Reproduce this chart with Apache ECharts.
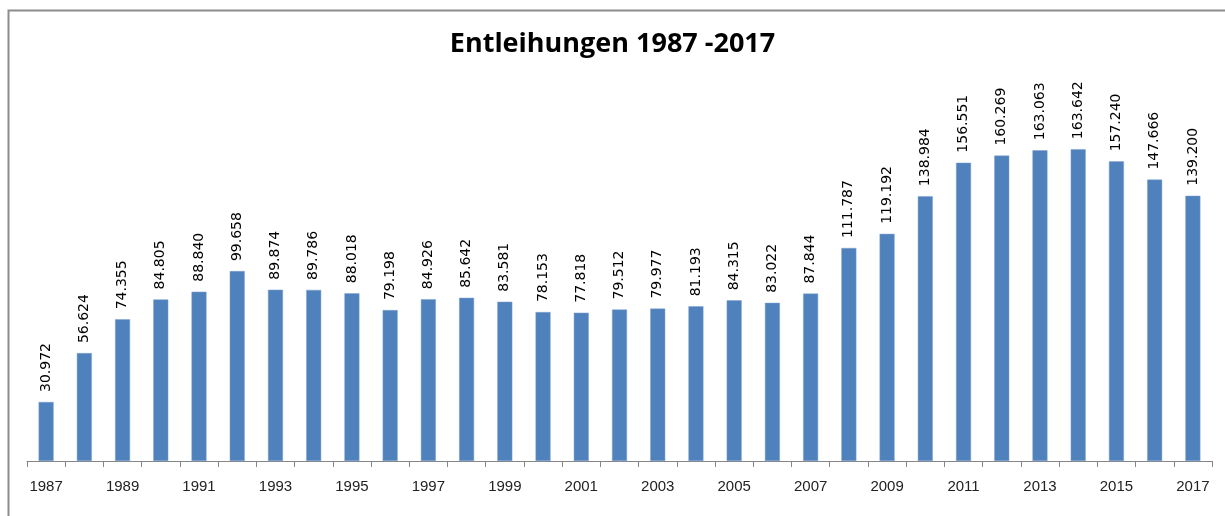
<!DOCTYPE html>
<html>
<head>
<meta charset="utf-8">
<script src="https://cdn.jsdelivr.net/npm/echarts@6/dist/echarts.min.js"></script>
<style>
html,body{margin:0;padding:0;background:#fff;}
#c1{width:1225px;height:516px;}
</style>
</head>
<body>
<div id="c1"></div>
<script>
var years = [];
for (var y = 1987; y <= 2017; y++) years.push(String(y));
var loans = [30972, 56624, 74355, 84805, 88840, 99658, 89874, 89786, 88018, 79198,
	84926, 85642, 83581, 78153, 77818, 79512, 79977, 81193, 84315, 83022,
	87844, 111787, 119192, 138984, 156551, 160269, 163063, 163642, 157240, 147666,
	139200];

function fmt(v) {
	// Tausenderpunkt
	return String(v).replace(/\B(?=(\d{3})+(?!\d))/g, '.');
}

var myChart = echarts.init(document.getElementById('c1'));
var option = {
	animation: false,
	title: {
		text: 'Entleihungen 1987 -2017',
		left: 'center',
		top: 26,
		textStyle: { fontFamily: 'Open Sans', fontWeight: 'bold', fontSize: 27, color: '#000' }
	},
	graphic: [{
		type: 'rect',
		shape: { x: 8.5, y: 10.5, width: 1240, height: 540 },
		style: { fill: 'none', stroke: '#8c8c8c', lineWidth: 2 }
	}],
	grid: { left: 27, right: 13, top: 118, bottom: 55 },
	xAxis: {
		type: 'category',
		data: years,
		axisLine: { lineStyle: { color: '#868686' } },
		axisTick: { show: true, alignWithLabel: false, interval: 0, length: 6, lineStyle: { color: '#868686' } },
		axisLabel: { interval: 1, color: '#222', fontFamily: 'Liberation Sans', fontSize: 15, margin: 18 }
	},
	yAxis: {
		type: 'value',
		min: 0,
		max: 180000,
		show: false
	},
	series: [{
		type: 'bar',
		data: loans,
		barWidth: 15,
		itemStyle: { color: '#4F81BD', borderColor: '#7fa3cf', borderWidth: 0.5 },
		label: {
			show: true,
			position: 'top',
			rotate: 90,
			align: 'left',
			verticalAlign: 'middle',
			distance: 10,
			fontFamily: 'DejaVu Sans',
			fontSize: 14,
			color: '#000',
			formatter: function (p) { return fmt(p.value); }
		}
	}]
};
myChart.setOption(option);
</script>
</body>
</html>
